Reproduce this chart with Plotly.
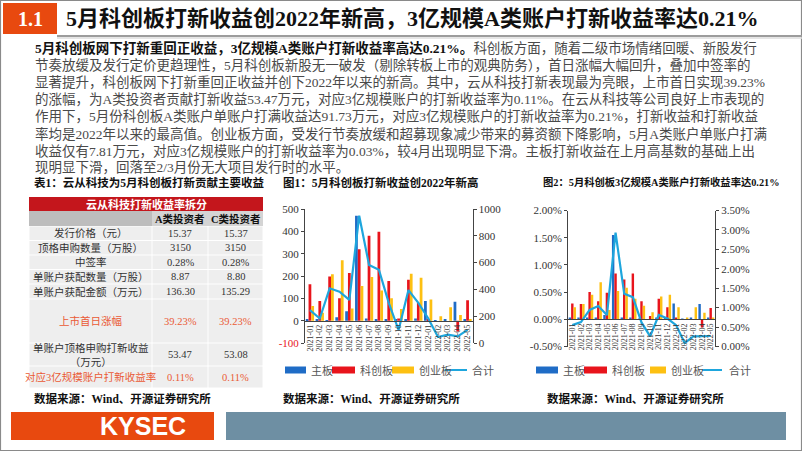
import plotly.graph_objects as go

W, H = 802, 451
def X(px): return px / W
def Y(py): return 1 - py / H

# ---------------- data ----------------
months = ["2021-01", "2021-02", "2021-03", "2021-04", "2021-05", "2021-06", "2021-07", "2021-08",
          "2021-09", "2021-10", "2021-11", "2021-12", "2022-01", "2022-02", "2022-03", "2022-04", "2022-05"]

# 图1: 打新收益 (万元)
main_income = [5, 5, 3, 15, 42, 470, 10, 8, 8, 8, 8, 10, 88, 3, 8, 85, 8]
star_income = [163, 88, 198, 100, 213, 320, 380, 398, 178, 10, 183, 80, 5, 0, 0, -48, 91.73]
chinext_income = [66, 35, 208, 270, 55, 155, 195, 135, 100, 52, 210, 192, 95, 20, 60, 25, 7.81]
total_income = [245, 183, 408, 383, 322, 950, 583, 547, 300, 97, 395, 300, 185, 45, 62, 50, 98]

# 图2: 3亿规模A类账户打新收益率
main_rate = [0.0002, 0.0002, 0.0002, 0.0003, 0.0008, 0.0155, 0.0003, 0.0002, 0.0001, 0.0000,
             0.0002, 0.0002, 0.0029, 0.0001, 0.0002, 0.0028, 0.0002]
star_rate = [0.0029, 0.0028, 0.0050, 0.0033, 0.0049, 0.0084, 0.0073, 0.0084, 0.0033, 0.0006,
             0.0038, 0.0022, 0.0002, 0.0000, 0.0000, -0.0015, 0.0021]
chinext_rate = [0.0022, 0.0028, 0.0045, 0.0068, 0.0017, 0.0052, 0.0058, 0.0038, 0.0025, 0.0013,
                0.0042, 0.0045, 0.0022, 0.0002, 0.0022, 0.0012, 0.0003]
total_rate = [0.0055, 0.0063, 0.0094, 0.0104, 0.0081, 0.0293, 0.0136, 0.0127, 0.0062, 0.0026,
              0.0081, 0.0072, 0.0055, 0.0009, 0.0026, 0.0027, 0.0027]

series_names = ["主板", "科创板", "创业板", "合计"]

# 表1
tbl_title = "云从科技打新收益率拆分"
tbl_cols = ["A类投资者", "C类投资者"]
tbl_rows = ["发行价格（元）", "顶格申购数量（万股）", "中签率", "单账户获配数量（万股）",
            "单账户获配金额（万元）", "上市首日涨幅", "单账户顶格申购打新收益<br>（万元）",
            "对应3亿规模账户打新收益率"]
tbl_a = ["15.37", "3150", "0.28%", "8.87", "136.30", "39.23%", "53.47", "0.11%"]
tbl_c = ["15.37", "3150", "0.28%", "8.80", "135.29", "39.23%", "53.08", "0.11%"]
tbl_highlight = [False, False, False, False, False, True, False, True]

left_ticks1 = [-100, 0, 100, 200, 300, 400, 500]
right_ticks1 = [0, 200, 400, 600, 800, 1000]
left_ticks2 = [-0.005, 0, 0.005, 0.01, 0.015, 0.02]
right_ticks2 = [0, 0.005, 0.01, 0.015, 0.02, 0.025, 0.03, 0.035]

# ---------------- styles ----------------
C_BLUE = "#1f6cc6"
C_RED = "#e8141c"
C_YEL = "#fdc012"
C_LINE = "#1ea6dd"
C_ORANGE = "#e8490f"
C_HL = "#ea5a35"
FONT = "Liberation Serif, Noto Sans CJK SC, serif"
FONT_CJK = "Noto Sans CJK SC, Liberation Serif, sans-serif"

fig = go.Figure()

# ---------- chart 1 ----------
for name, vals, col in zip(series_names[:3], [main_income, star_income, chinext_income], [C_BLUE, C_RED, C_YEL]):
    fig.add_trace(go.Bar(x=months, y=vals, name=name, marker=dict(color=col, line=dict(width=0)),
                         xaxis="x", yaxis="y", showlegend=False))
fig.add_trace(go.Scatter(x=months, y=total_income, mode="lines", name=series_names[3],
                         line=dict(color=C_LINE, width=2.2), xaxis="x", yaxis="y2", showlegend=False))

# ---------- chart 2 ----------
for name, vals, col in zip(series_names[:3], [main_rate, star_rate, chinext_rate], [C_BLUE, C_RED, C_YEL]):
    fig.add_trace(go.Bar(x=months, y=vals, name=name, marker=dict(color=col, line=dict(width=0)),
                         xaxis="x2", yaxis="y3", showlegend=False))
fig.add_trace(go.Scatter(x=months, y=total_rate, mode="lines", name=series_names[3],
                         line=dict(color=C_LINE, width=2.2), xaxis="x2", yaxis="y4", showlegend=False))

# geometry
c1_l, c1_r, c1_t, c1_b = 305, 472.5, 209, 343
c2_l, c2_r, c2_t, c2_b = 568, 715, 210.5, 346.5
zero1 = c1_b - (0 - (-100)) / 600 * (c1_b - c1_t)
zero2 = c2_b - (0 - (-0.005)) / 0.025 * (c2_b - c2_t)

tickfont = dict(family=FONT, size=11, color="#333")
xtickfont = dict(family=FONT, size=8, color="#333")

common_x = dict(type="category", showline=True, linecolor="#444", linewidth=1, tickangle=-90,
                tickfont=xtickfont, ticks="", showgrid=False, zeroline=False, automargin=False,
                tickmode="array", tickvals=months, ticktext=months, anchor="free", fixedrange=True)
common_y = dict(showline=True, linecolor="#444", linewidth=1, ticks="outside", ticklen=3,
                tickcolor="#444", showgrid=False, zeroline=False, automargin=False, tickfont=tickfont,
                tickmode="array")

left1_text = [('<span style="color:%s">%d</span>' % (C_RED, v)) if v < 0 else str(v) for v in left_ticks1]

fig.update_layout(
    xaxis=dict(common_x, domain=[X(c1_l), X(c1_r)], position=Y(zero1)),
    yaxis=dict(common_y, domain=[Y(c1_b), Y(c1_t)], range=[-100, 500], anchor="x",
               tickvals=left_ticks1, ticktext=left1_text),
    yaxis2=dict(common_y, domain=[Y(c1_b), Y(c1_t)], range=[0, 1000], anchor="x", overlaying="y",
                side="right", tickvals=right_ticks1, ticktext=[str(v) for v in right_ticks1]),
    xaxis2=dict(common_x, domain=[X(c2_l), X(c2_r)], position=Y(zero2)),
    yaxis3=dict(common_y, domain=[Y(c2_b), Y(c2_t)], range=[-0.005, 0.02], anchor="x2",
                tickvals=left_ticks2, ticktext=["%.2f%%" % (v * 100) for v in left_ticks2]),
    yaxis4=dict(common_y, domain=[Y(c2_b), Y(c2_t)], range=[0, 0.035], anchor="x2", overlaying="y3",
                side="right", tickvals=right_ticks2, ticktext=["%.2f%%" % (v * 100) for v in right_ticks2]),
    barmode="group", bargap=0.16, bargroupgap=0.0,
    width=W, height=H, margin=dict(l=0, r=0, t=0, b=0),
    paper_bgcolor="white", plot_bgcolor="rgba(0,0,0,0)", template="none", showlegend=False,
)

shapes = []
ann = []

def rect(x0, y0, x1, y1, fill, line=None, lw=0, layer="below"):
    shapes.append(dict(type="rect", xref="paper", yref="paper", x0=X(x0), x1=X(x1), y0=Y(y1), y1=Y(y0),
                       fillcolor=fill, line=dict(width=lw, color=line or fill), layer=layer))

def hline(x0, x1, y, color, w=1):
    shapes.append(dict(type="line", xref="paper", yref="paper", x0=X(x0), x1=X(x1), y0=Y(y), y1=Y(y),
                       line=dict(color=color, width=w)))

def text(x, y, s, size=11, color="#333", xanchor="left", family=FONT, bold=False):
    if bold:
        s = "<b>" + s + "</b>"
    ann.append(dict(xref="paper", yref="paper", x=X(x), y=Y(y), text=s, showarrow=False,
                    xanchor=xanchor, yanchor="middle", font=dict(size=size, color=color, family=family),
                    align="center" if xanchor == "center" else "left"))

# slide frame
shapes.append(dict(type="rect", xref="paper", yref="paper", x0=0.0006, x1=0.9994, y0=0.001, y1=0.999,
                   line=dict(color="#8a8a8a", width=1.2), fillcolor="rgba(0,0,0,0)", layer="above"))

# header
rect(3, 3, 57, 34, C_ORANGE)
text(30, 19, "1.1", size=20, color="white", xanchor="center", bold=True)
text(64, 19, "5月科创板打新收益创2022年新高，3亿规模A类账户打新收益率达0.21%", size=22, color="#111", bold=True)
hline(57, 802, 36, "#9c9c9c", 2)
hline(57, 802, 38, "#dcdcdc", 1.5)

# paragraph
para = [
    "<b>5月科创板网下打新重回正收益，3亿规模A类账户打新收益率高达0.21%。</b>科创板方面，随着二级市场情绪回暖、新股发行",
    "节奏放缓及发行定价更趋理性，5月科创板新股无一破发（剔除转板上市的观典防务），首日涨幅大幅回升，叠加中签率的",
    "显著提升，科创板网下打新重回正收益并创下2022年以来的新高。其中，云从科技打新表现最为亮眼，上市首日实现39.23%",
    "的涨幅，为A类投资者贡献打新收益53.47万元，对应3亿规模账户的打新收益率为0.11%。在云从科技等公司良好上市表现的",
    "作用下，5月份科创板A类账户单账户打满收益达91.73万元，对应3亿规模账户的打新收益率为0.21%，打新收益和打新收益",
    "率均是2022年以来的最高值。创业板方面，受发行节奏放缓和超募现象减少带来的募资额下降影响，5月A类账户单账户打满",
    "收益仅有7.81万元，对应3亿规模账户的打新收益率为0.03%，较4月出现明显下滑。主板打新收益在上月高基数的基础上出",
    "现明显下滑，回落至2/3月份无大项目发行时的水平。",
]
for i, line in enumerate(para):
    s = line.replace("<b>", '<b><span style="color:#111">').replace("</b>", "</span></b>")
    text(33, 48 + i * 17.1, s, size=13.5, color="#4a4a4a")

# ---------- table ----------
tl, tr = 29, 263
cx = [tl, 152, 208, tr]
rect(tl, 197, tr, 211, "#c4161c")
text((tl + tr) / 2, 204, tbl_title, size=11, color="white", xanchor="center", bold=True, family=FONT_CJK)
rect(cx[0], 211, cx[1], 226, "#bdbdbd")
rect(cx[1], 211, cx[2], 226, "#d4d4d4")
rect(cx[2], 211, cx[3], 226, "#d4d4d4")
text((cx[1] + cx[2]) / 2, 218.5, tbl_cols[0], size=10.5, color="#111", xanchor="center", bold=True)
text((cx[2] + cx[3]) / 2, 218.5, tbl_cols[1], size=10.5, color="#111", xanchor="center", bold=True)
row_edges = [226, 240.5, 255, 269.5, 284, 299, 343, 366, 388]
for i in range(len(tbl_rows)):
    y0, y1 = row_edges[i], row_edges[i + 1]
    for j in range(3):
        rect(cx[j] + 0.5, y0 + 0.5, cx[j + 1] - 0.5, y1 - 0.5, "#eeeeee")
    col = C_HL if tbl_highlight[i] else "#333"
    yc = (y0 + y1) / 2
    text((cx[0] + cx[1]) / 2, yc, tbl_rows[i], size=10.5, color=col, xanchor="center")
    text((cx[1] + cx[2]) / 2, yc, tbl_a[i], size=10.5, color=col, xanchor="center")
    text((cx[2] + cx[3]) / 2, yc, tbl_c[i], size=10.5, color=col, xanchor="center")

# titles and sources
text(32, 182, "表1：云从科技为5月科创板打新贡献主要收益", size=11.5, color="#111", bold=True)
text(281, 182, "图1：5月科创板打新收益创2022年新高", size=11.5, color="#111", bold=True)
text(541, 182, "图2：5月科创板3亿规模A类账户打新收益率达0.21%", size=10.3, color="#111", bold=True)
for xs in [32, 281, 545]:
    text(xs, 398, "数据来源：Wind、开源证券研究所", size=11.5, color="#111", bold=True)

# legends
def legend(y, swatch_xs, label_xs):
    cols = [C_BLUE, C_RED, C_YEL]
    for k in range(3):
        a, b = swatch_xs[k]
        rect(a, y - 3.5, b, y + 3.5, cols[k])
        text(label_xs[k], y, series_names[k], size=11, color="#555", family=FONT_CJK)
    a, b = swatch_xs[3]
    hline(a, b, y, C_LINE, 2)
    text(label_xs[3], y, series_names[3], size=11, color="#555", family=FONT_CJK)

legend(370, [(285, 306), (332, 355), (392, 414), (445, 467)], [309, 358, 417, 470])
legend(370, [(536, 558), (584, 607), (650, 666), (702, 722)], [561, 610, 669, 727])

# footer
rect(11, 412, 214, 440, C_ORANGE)
text(143, 426, "KYSEC", size=25, color="white", xanchor="center", bold=True,
     family="Liberation Sans, Arial, sans-serif")
rect(226, 412, 786, 440, "#6e8fa3")

fig.update_layout(shapes=shapes, annotations=ann)
fig.write_html("out.html")
